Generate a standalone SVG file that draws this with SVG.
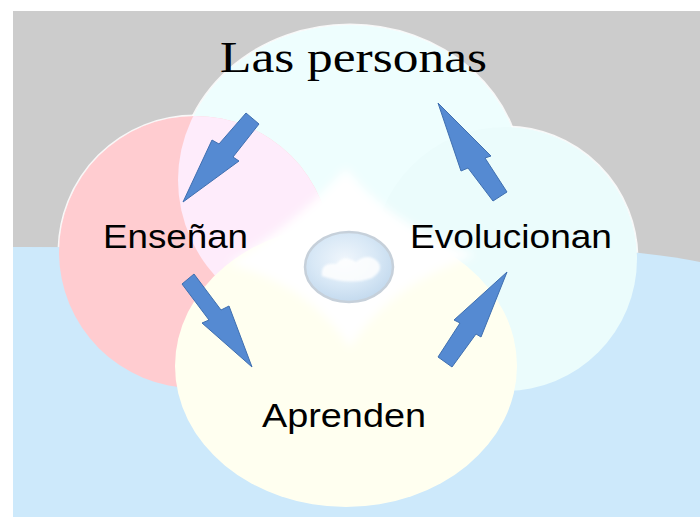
<svg xmlns="http://www.w3.org/2000/svg" width="700" height="517" viewBox="0 0 700 517">
  <style>
    .lbl { font-family: "Liberation Sans", Arial, sans-serif; font-size: 34px; fill: #000; }
    .title { font-family: "Liberation Serif", "Times New Roman", serif; font-size: 44px; fill: #000; }
    .arrow { fill: #558ad2; stroke: #3f6fb0; stroke-width: 1; stroke-linejoin: miter; }
    .halo { fill: #ffffff; stroke: #ffffff; stroke-width: 3; stroke-opacity: 0.85; }
  </style>
  <defs>
    <clipPath id="pinkClip">
      <circle cx="195" cy="252" r="136"/>
    </clipPath>
    <clipPath id="grayClip">
      <path d="M13,11 H700 V262 Q640,250 560,248 L13,247 Z"/>
    </clipPath>
    <radialGradient id="ballGrad" cx="0.45" cy="0.4" r="0.6">
      <stop offset="0" stop-color="#f0f6fc"/>
      <stop offset="0.6" stop-color="#d8e8f6"/>
      <stop offset="1" stop-color="#c4daee"/>
    </radialGradient>
    <filter id="soft" x="-20%" y="-20%" width="140%" height="140%">
      <feGaussianBlur stdDeviation="5"/>
    </filter>
    <filter id="soft1" x="-20%" y="-20%" width="140%" height="140%">
      <feGaussianBlur stdDeviation="1.2"/>
    </filter>
  </defs>

  <!-- background -->
  <rect x="0" y="0" width="700" height="517" fill="#ffffff"/>
  <rect x="13" y="11" width="687" height="506" fill="#cccccc"/>
  <path d="M13,247 L560,248 Q640,250 700,262 V517 H13 Z" fill="#cde9fb"/>

  <!-- circles -->
  <g id="shapes">
    <g id="halos" clip-path="url(#grayClip)">
      <ellipse class="halo" cx="350" cy="180" rx="172" ry="155"/>
      <circle class="halo" cx="505" cy="259" r="132"/>
      <circle class="halo" cx="195" cy="252" r="136"/>
    </g>
    <ellipse id="circle-top" cx="350" cy="180" rx="172" ry="155" fill="#eefefe"/>
    <circle id="circle-right" cx="505" cy="259" r="132" fill="#ebfcfc"/>
    <circle id="circle-left" cx="195" cy="252" r="136" fill="#ffccd0"/>
    <ellipse cx="350" cy="180" rx="172" ry="155" fill="#feecfb" clip-path="url(#pinkClip)"/>
    <ellipse id="circle-bottom" cx="346" cy="366" rx="171" ry="141" fill="#fffff0"/>
    <path id="center-white" d="M346,168 Q300,220 228,264 Q310,285 350,348 Q388,285 476,255 Q390,225 346,168 Z" fill="#ffffff" filter="url(#soft)"/>
  </g>

  <!-- crystal ball -->
  <g id="ball">
    <ellipse cx="349" cy="267" rx="44" ry="35" fill="url(#ballGrad)" stroke="#c6d0da" stroke-width="2.5"/>
    <path d="M322,276 Q320,262 336,264 Q344,254 356,262 Q368,252 378,262 Q384,270 372,278 Q350,286 322,276 Z" fill="#ffffff" opacity="0.85" filter="url(#soft1)"/>
  </g>

  <!-- connectors -->
  <g id="connectors">
    <polygon class="arrow" points="246,113 259,124 233,157 239,161 183,202 212,140 219,144"/>
    <polygon class="arrow" points="182,284 194,274 221,310 229,306 252,367 202,323 209,320"/>
    <polygon class="arrow" points="507,272 481,337 476,334 452,367 438,357 460,323 454,320"/>
    <polygon class="arrow" points="438,103 491,156 485,158 507,192 493,201 468,168 461,171"/>
  </g>

  <!-- labels -->
  <g id="node-personas">
    <text class="title" x="220" y="72" textLength="267" lengthAdjust="spacingAndGlyphs">Las personas</text>
  </g>
  <g id="node-ensenan">
    <text class="lbl" x="103" y="248" textLength="145" lengthAdjust="spacingAndGlyphs">Enseñan</text>
  </g>
  <g id="node-evolucionan">
    <text class="lbl" x="410" y="248" textLength="202" lengthAdjust="spacingAndGlyphs">Evolucionan</text>
  </g>
  <g id="node-aprenden">
    <text class="lbl" x="262" y="427" textLength="164" lengthAdjust="spacingAndGlyphs">Aprenden</text>
  </g>
</svg>
